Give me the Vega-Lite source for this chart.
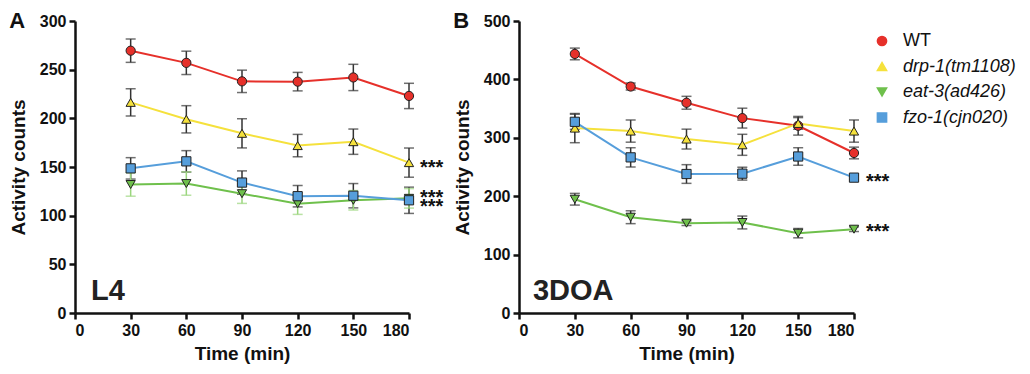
{
  "$schema": "https://vega.github.io/schema/vega-lite/v6.json",
  "padding": {"left": 9, "top": 10, "right": 0, "bottom": 5},
  "background": "white",
  "spacing": 9,
  "config": {
    "view": {"stroke": null},
    "font": "Liberation Sans",
    "axis": {
      "grid": false,
      "domainColor": "#111",
      "domainWidth": 2.5,
      "tickColor": "#111",
      "tickWidth": 2.5,
      "tickSize": 6,
      "labelFont": "Liberation Sans",
      "labelFontWeight": "bold",
      "labelFontSize": 16,
      "labelColor": "#111",
      "labelPadding": 3,
      "titleFont": "Liberation Sans",
      "titleFontWeight": "bold",
      "titleFontSize": 19,
      "titleColor": "#111"
    },
    "legend": {"labelFont": "Liberation Sans", "labelFontSize": 18, "labelColor": "#111"},
    "title": {"font": "Liberation Sans", "fontSize": 22, "fontWeight": "bold", "color": "#111", "anchor": "start", "frame": "bounds", "offset": -20}
  },
  "datasets": {
    "main": [
      {"panel": "A", "strain": "WT", "time": 30, "mean": 269.5, "err": 12},
      {"panel": "A", "strain": "WT", "time": 60, "mean": 257, "err": 12},
      {"panel": "A", "strain": "WT", "time": 90, "mean": 238, "err": 11.5},
      {"panel": "A", "strain": "WT", "time": 120, "mean": 237.7, "err": 9.5},
      {"panel": "A", "strain": "WT", "time": 150, "mean": 242, "err": 13.5},
      {"panel": "A", "strain": "WT", "time": 180, "mean": 223, "err": 13},
      {"panel": "A", "strain": "drp-1(tm1108)", "time": 30, "mean": 216.4, "err": 14},
      {"panel": "A", "strain": "drp-1(tm1108)", "time": 60, "mean": 199, "err": 14},
      {"panel": "A", "strain": "drp-1(tm1108)", "time": 90, "mean": 184.6, "err": 15},
      {"panel": "A", "strain": "drp-1(tm1108)", "time": 120, "mean": 172, "err": 11.5},
      {"panel": "A", "strain": "drp-1(tm1108)", "time": 150, "mean": 176, "err": 13},
      {"panel": "A", "strain": "drp-1(tm1108)", "time": 180, "mean": 154.5, "err": 15},
      {"panel": "A", "strain": "eat-3(ad426)", "time": 30, "mean": 132, "err": 12},
      {"panel": "A", "strain": "eat-3(ad426)", "time": 60, "mean": 133, "err": 12},
      {"panel": "A", "strain": "eat-3(ad426)", "time": 90, "mean": 122.6, "err": 10},
      {"panel": "A", "strain": "eat-3(ad426)", "time": 120, "mean": 112.3, "err": 11},
      {"panel": "A", "strain": "eat-3(ad426)", "time": 150, "mean": 115.8, "err": 10},
      {"panel": "A", "strain": "eat-3(ad426)", "time": 180, "mean": 117.8, "err": 10},
      {"panel": "A", "strain": "fzo-1(cjn020)", "time": 30, "mean": 148.6, "err": 11},
      {"panel": "A", "strain": "fzo-1(cjn020)", "time": 60, "mean": 155.8, "err": 11},
      {"panel": "A", "strain": "fzo-1(cjn020)", "time": 90, "mean": 134, "err": 12},
      {"panel": "A", "strain": "fzo-1(cjn020)", "time": 120, "mean": 120, "err": 11},
      {"panel": "A", "strain": "fzo-1(cjn020)", "time": 150, "mean": 120.5, "err": 12.5},
      {"panel": "A", "strain": "fzo-1(cjn020)", "time": 180, "mean": 115.8, "err": 13.5},
      {"panel": "B", "strain": "WT", "time": 30, "mean": 443.6, "err": 10},
      {"panel": "B", "strain": "WT", "time": 60, "mean": 387.8, "err": 6},
      {"panel": "B", "strain": "WT", "time": 90, "mean": 360, "err": 11},
      {"panel": "B", "strain": "WT", "time": 120, "mean": 333.7, "err": 17},
      {"panel": "B", "strain": "WT", "time": 150, "mean": 320.6, "err": 16},
      {"panel": "B", "strain": "WT", "time": 180, "mean": 274, "err": 10},
      {"panel": "B", "strain": "drp-1(tm1108)", "time": 30, "mean": 316.6, "err": 25},
      {"panel": "B", "strain": "drp-1(tm1108)", "time": 60, "mean": 311.5, "err": 19},
      {"panel": "B", "strain": "drp-1(tm1108)", "time": 90, "mean": 297.8, "err": 17},
      {"panel": "B", "strain": "drp-1(tm1108)", "time": 120, "mean": 288, "err": 18},
      {"panel": "B", "strain": "drp-1(tm1108)", "time": 150, "mean": 324.6, "err": 10},
      {"panel": "B", "strain": "drp-1(tm1108)", "time": 180, "mean": 311.5, "err": 19},
      {"panel": "B", "strain": "eat-3(ad426)", "time": 30, "mean": 194.8, "err": 10},
      {"panel": "B", "strain": "eat-3(ad426)", "time": 60, "mean": 164, "err": 11},
      {"panel": "B", "strain": "eat-3(ad426)", "time": 90, "mean": 153.8, "err": 4},
      {"panel": "B", "strain": "eat-3(ad426)", "time": 120, "mean": 155, "err": 11},
      {"panel": "B", "strain": "eat-3(ad426)", "time": 150, "mean": 136.7, "err": 8},
      {"panel": "B", "strain": "eat-3(ad426)", "time": 180, "mean": 143.5, "err": 4},
      {"panel": "B", "strain": "fzo-1(cjn020)", "time": 30, "mean": 327.4, "err": 13},
      {"panel": "B", "strain": "fzo-1(cjn020)", "time": 60, "mean": 266.5, "err": 16.5},
      {"panel": "B", "strain": "fzo-1(cjn020)", "time": 90, "mean": 238, "err": 16},
      {"panel": "B", "strain": "fzo-1(cjn020)", "time": 120, "mean": 238.6, "err": 11},
      {"panel": "B", "strain": "fzo-1(cjn020)", "time": 150, "mean": 268, "err": 15},
      {"panel": "B", "strain": "fzo-1(cjn020)", "time": 180, "mean": 231.8, "err": 4}
    ],
    "stars": [
      {"panel": "A", "time": 180, "mean": 153, "label": "***"},
      {"panel": "A", "time": 180, "mean": 122.5, "label": "***"},
      {"panel": "A", "time": 180, "mean": 113, "label": "***"},
      {"panel": "B", "time": 180, "mean": 231.7, "label": "***"},
      {"panel": "B", "time": 180, "mean": 145.5, "label": "***"}
    ],
    "labels": [
      {"panel": "A", "time": 8.6, "mean": 13, "label": "L4"},
      {"panel": "B", "time": 7.5, "mean": 22, "label": "3DOA"}
    ]
  },
  "resolve": {"scale": {"x": "independent", "y": "independent", "color": "shared", "shape": "shared"}},
  "hconcat": [
    {
      "width": 334,
      "height": 292,
      "title": {"text": "A"},
      "encoding": {
        "x": {"field": "time", "type": "quantitative", "scale": {"domain": [0, 180]}, "axis": {"values": [0, 30, 60, 90, 120, 150, 180], "title": "Time (min)", "titlePadding": 6}},
        "y": {"field": "mean", "type": "quantitative", "scale": {"domain": [0, 300]}, "axis": {"values": [0, 50, 100, 150, 200, 250, 300], "title": "Activity counts", "titlePadding": 11}}
      },
      "layer": [
        {
          "data": {"name": "main"},
          "transform": [{"filter": "datum.panel === 'A' && datum.strain !== 'eat-3(ad426)'"}],
          "mark": {"type": "errorbar", "ticks": {"size": 10}, "color": "#333", "thickness": 1.5},
          "encoding": {"yError": {"field": "err"}, "detail": {"field": "strain"}}
        },
        {
          "data": {"name": "main"},
          "transform": [{"filter": "datum.panel === 'A' && datum.strain === 'eat-3(ad426)'"}],
          "mark": {"type": "errorbar", "ticks": {"size": 10}, "color": "#9bd67e", "thickness": 1.5},
          "encoding": {"yError": {"field": "err"}, "detail": {"field": "strain"}}
        },
        {
          "data": {"name": "main"},
          "transform": [{"filter": "datum.panel === 'A'"}],
          "mark": {"type": "line", "strokeWidth": 2},
          "encoding": {
            "color": {"field": "strain", "type": "nominal", "scale": {"domain": ["WT", "drp-1(tm1108)", "eat-3(ad426)", "fzo-1(cjn020)"], "range": ["#e6302a", "#f5e13c", "#6fc04c", "#569edb"]}, "legend": {
              "orient": "none", "legendX": 798, "legendY": 11, "title": null, "padding": 0,
              "labelFontSize": 18, "labelOffset": 12, "rowPadding": 7.5, "symbolSize": 85, "symbolStrokeWidth": 1.5,
              "encode": {
                "labels": {"update": {"fontStyle": {"signal": "datum.value === 'WT' ? 'normal' : 'italic'"}}}
              }
            }}
          }
        },
        {
          "data": {"name": "main"},
          "transform": [{"filter": "datum.panel === 'A'"}],
          "mark": {"type": "point", "filled": true, "size": 85, "stroke": "#222", "strokeWidth": 1, "opacity": 1},
          "encoding": {
            "color": {"field": "strain", "type": "nominal"},
            "shape": {"field": "strain", "type": "nominal", "legend": null, "scale": {"domain": ["WT", "drp-1(tm1108)", "eat-3(ad426)", "fzo-1(cjn020)"], "range": ["circle", "triangle-up", "triangle-down", "square"]}}
          }
        },
        {
          "data": {"name": "stars"},
          "transform": [{"filter": "datum.panel === 'A'"}],
          "mark": {"type": "text", "align": "left", "baseline": "middle", "dx": 11, "dy": 4, "fontSize": 20, "fontWeight": "bold", "font": "Liberation Sans", "color": "#111"},
          "encoding": {"text": {"field": "label"}}
        },
        {
          "data": {"name": "labels"},
          "transform": [{"filter": "datum.panel === 'A'"}],
          "mark": {"type": "text", "align": "left", "baseline": "alphabetic", "fontSize": 29, "fontWeight": "bold", "font": "Liberation Sans", "color": "#222"},
          "encoding": {"text": {"field": "label"}}
        }
      ]
    },
    {
      "width": 335,
      "height": 292,
      "title": {"text": "B"},
      "encoding": {
        "x": {"field": "time", "type": "quantitative", "scale": {"domain": [0, 180]}, "axis": {"values": [0, 30, 60, 90, 120, 150, 180], "title": "Time (min)", "titlePadding": 6}},
        "y": {"field": "mean", "type": "quantitative", "scale": {"domain": [0, 500]}, "axis": {"values": [0, 100, 200, 300, 400, 500], "title": "Activity counts", "titlePadding": 11}}
      },
      "layer": [
        {
          "data": {"name": "main"},
          "transform": [{"filter": "datum.panel === 'B'"}],
          "mark": {"type": "errorbar", "ticks": {"size": 10}, "color": "#333", "thickness": 1.5},
          "encoding": {"yError": {"field": "err"}, "detail": {"field": "strain"}}
        },
        {
          "data": {"name": "main"},
          "transform": [{"filter": "datum.panel === 'B'"}],
          "mark": {"type": "line", "strokeWidth": 2},
          "encoding": {
            "color": {"field": "strain", "type": "nominal"}
          }
        },
        {
          "data": {"name": "main"},
          "transform": [{"filter": "datum.panel === 'B'"}],
          "mark": {"type": "point", "filled": true, "size": 85, "stroke": "#222", "strokeWidth": 1, "opacity": 1},
          "encoding": {
            "color": {"field": "strain", "type": "nominal"},
            "shape": {"field": "strain", "type": "nominal", "legend": null}
          }
        },
        {
          "data": {"name": "stars"},
          "transform": [{"filter": "datum.panel === 'B'"}],
          "mark": {"type": "text", "align": "left", "baseline": "middle", "dx": 12, "dy": 4, "fontSize": 20, "fontWeight": "bold", "font": "Liberation Sans", "color": "#111"},
          "encoding": {"text": {"field": "label"}}
        },
        {
          "data": {"name": "labels"},
          "transform": [{"filter": "datum.panel === 'B'"}],
          "mark": {"type": "text", "align": "left", "baseline": "alphabetic", "fontSize": 29, "fontWeight": "bold", "font": "Liberation Sans", "color": "#222"},
          "encoding": {"text": {"field": "label"}}
        }
      ]
    }
  ]
}
